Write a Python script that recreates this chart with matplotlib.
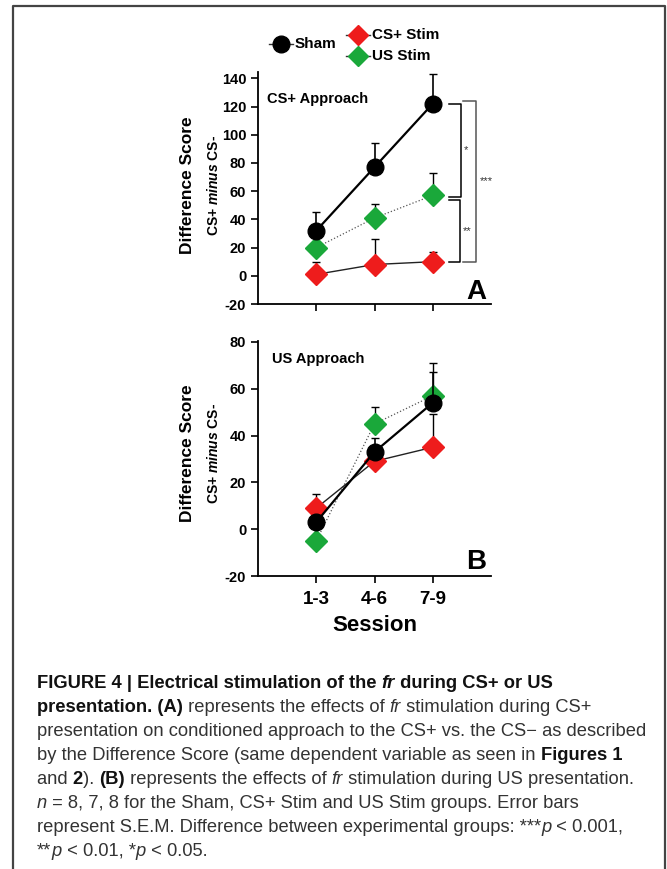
import numpy as np
import matplotlib
matplotlib.use("Agg")
import matplotlib.pyplot as plt
from matplotlib.lines import Line2D

# data
sessions = ["1-3", "4-6", "7-9"]
xpos = [1, 2, 3]

# panel A: CS+ approach
sham_a = [32, 77, 122]
sham_a_err = [13, 17, 21]
csstim_a = [1, 8, 10]
csstim_a_err = [9, 18, 7]
usstim_a = [20, 41, 57]
usstim_a_err = [4, 10, 16]

# panel B: US approach
sham_b = [3, 33, 54]
sham_b_err = [3, 6, 13]
csstim_b = [9, 29, 35]
csstim_b_err = [6, 3, 14]
usstim_b = [-5, 45, 57]
usstim_b_err = [2, 7, 14]

W, H = 667, 869
plt.rcParams['font.family'] = ['Liberation Sans', 'DejaVu Sans']
plt.rcParams['axes.unicode_minus'] = False
plt.rcParams['mathtext.fontset'] = 'custom'
plt.rcParams['mathtext.bfit'] = 'Liberation Sans:italic:bold'
plt.rcParams['mathtext.it'] = 'Liberation Sans:italic'
plt.rcParams['mathtext.rm'] = 'Liberation Sans'
plt.rcParams['mathtext.bf'] = 'Liberation Sans:bold'
fig = plt.figure(figsize=(W / 100, H / 100), dpi=100)

def fx(px):
    return px / W

def fy(py):
    return 1 - py / H

# frame around the figure
fig.add_artist(Line2D([fx(13), fx(13), fx(665), fx(665)], [0, fy(6), fy(6), 0],
                      transform=fig.transFigure, color='#444444', lw=1.6))

red = '#ee1c1c'
green = '#1aa83a'

def panel(ax, sham, sham_e, cs, cs_e, us, us_e):
    ax.errorbar(xpos, us, yerr=[np.zeros(3), us_e], color='#555555', lw=0.9, ls=':',
                marker='D', ms=11, mfc=green, mec=green, ecolor='black', elinewidth=1,
                capsize=3, zorder=3)
    ax.errorbar(xpos, cs, yerr=[np.zeros(3), cs_e], color='#222222', lw=1.0,
                marker='D', ms=11, mfc=red, mec=red, ecolor='black', elinewidth=1,
                capsize=3, zorder=4)
    ax.errorbar(xpos, sham, yerr=[np.zeros(3), sham_e], color='black', lw=1.6,
                marker='o', ms=12, mfc='black', mec='black', ecolor='black', elinewidth=1.2,
                capsize=3, zorder=5)
    for s in ['top', 'right']:
        ax.spines[s].set_visible(False)
    for s in ['left', 'bottom']:
        ax.spines[s].set_linewidth(1.3)
    ax.set_xlim(0, 4)
    ax.set_xticks(xpos)
    ax.tick_params(direction='out', length=5, width=1.2)

# panel A
axA = fig.add_axes([fx(258), fy(304), fx(491) - fx(258), fy(72) - fy(304)])
panel(axA, sham_a, sham_a_err, csstim_a, csstim_a_err, usstim_a, usstim_a_err)
axA.set_ylim(-20, 144.5)
axA.set_yticks(np.arange(-20, 141, 20))
for lab in axA.get_yticklabels():
    lab.set_fontweight('bold')
    lab.set_fontsize(10.5)
axA.set_xticklabels([])
axA.text(0.04, 0.885, "CS+ Approach", transform=axA.transAxes, fontsize=10.5,
         fontweight='bold', va='center')
axA.text(0.98, 0.02, "A", transform=axA.transAxes, fontsize=20, fontweight='bold', ha='right')

# significance brackets
def bracket(ax, y1, y2, x0, x1, label, lx, color='black'):
    ax.plot([x0, x1, x1, x0], [y1, y1, y2, y2], color=color, lw=1.1, clip_on=False)
    ax.text(lx, (y1 + y2) / 2, label, fontsize=8, color='#333333', va='center', ha='left',
            clip_on=False)

bracket(axA, sham_a[2], usstim_a[2] - 1, 3.28, 3.48, "*", 3.53)
bracket(axA, usstim_a[2] - 3, csstim_a[2], 3.28, 3.46, "**", 3.51)
bracket(axA, sham_a[2] + 2, csstim_a[2], 3.52, 3.74, "***", 3.80, color='#555555')

# panel B
axB = fig.add_axes([fx(258), fy(576), fx(491) - fx(258), fy(341) - fy(576)])
panel(axB, sham_b, sham_b_err, csstim_b, csstim_b_err, usstim_b, usstim_b_err)
axB.set_ylim(-20, 80.4)
axB.set_yticks(np.arange(-20, 81, 20))
for lab in axB.get_yticklabels():
    lab.set_fontweight('bold')
    lab.set_fontsize(10.5)
axB.set_xticklabels(sessions, fontsize=13.5, fontweight='bold')
axB.tick_params(axis='x', pad=6)
axB.set_xlabel("Session", fontsize=16, fontweight='bold', labelpad=5)
axB.text(0.06, 0.925, "US Approach", transform=axB.transAxes, fontsize=10.5,
         fontweight='bold', va='center')
axB.text(0.98, 0.03, "B", transform=axB.transAxes, fontsize=20, fontweight='bold', ha='right')

# y labels (two lines, different sizes)
for yc in (185, 453):
    fig.text(fx(188), fy(yc), "Difference Score", rotation=90, fontsize=12.5,
             fontweight='bold', ha='center', va='center')
    fig.text(fx(213), fy(yc), r"CS+ $\mathbfit{minus}$ CS-", rotation=90, fontsize=10,
             fontweight='bold', ha='center', va='center')

# legend drawn by hand
def leg_item(xc, yc, marker, color, ms, label):
    fig.add_artist(Line2D([fx(xc - 12), fx(xc + 12)], [fy(yc), fy(yc)], transform=fig.transFigure,
                          color='#333333', lw=1))
    fig.add_artist(Line2D([fx(xc)], [fy(yc)], transform=fig.transFigure, marker=marker,
                          ms=ms, mfc=color, mec=color, ls='none'))
    fig.text(fx(xc + 14), fy(yc), label, fontsize=11, fontweight='bold', va='center')

leg_item(281, 44, 'o', 'black', 12, "Sham")
leg_item(358, 35, 'D', red, 10, "CS+ Stim")
leg_item(358, 56, 'D', green, 10, "US Stim")

# caption
cap_size = 13.2

caption = [
    [("FIGURE 4 | Electrical stimulation of the ", 'b'), ("fr", 'bi'), (" during CS+ or US", 'b')],
    [("presentation. (A)", 'b'), (" represents the effects of ", 'r'), ("fr", 'i'),
     (" stimulation during CS+", 'r')],
    [("presentation on conditioned approach to the CS+ vs. the CS\u2212 as described", 'r')],
    [("by the Difference Score (same dependent variable as seen in ", 'r'), ("Figures 1", 'b')],
    [("and ", 'r'), ("2", 'b'), ("). ", 'r'), ("(B)", 'b'), (" represents the effects of ", 'r'),
     ("fr", 'i'), (" stimulation during US presentation.", 'r')],
    [("n", 'i'), (" = 8, 7, 8 for the Sham, CS+ Stim and US Stim groups. Error bars", 'r')],
    [("represent S.E.M. Difference between experimental groups: ***", 'r'), ("p", 'i'),
     (" < 0.001,", 'r')],
    [("**", 'r'), ("p", 'i'), (" < 0.01, *", 'r'), ("p", 'i'), (" < 0.05.", 'r')],
]

renderer = fig.canvas.get_renderer()

def width_of(txt, kw):
    t1 = fig.text(0, 0, "x" + txt + "x", **kw)
    t2 = fig.text(0, 0, "xx", **kw)
    w = t1.get_window_extent(renderer).width - t2.get_window_extent(renderer).width
    t1.remove()
    t2.remove()
    return w

y = 683
for line in caption:
    x = 37
    for txt, st in line:
        kw = dict(fontsize=cap_size,
                  fontweight='bold' if 'b' in st else 'normal',
                  fontstyle='italic' if 'i' in st else 'normal',
                  color='#111111' if 'b' in st else '#333333')
        fig.text(fx(x), fy(y), txt, va='center', ha='left', **kw)
        x += width_of(txt, kw)
    y += 24

fig.savefig("out.png", dpi=100)
